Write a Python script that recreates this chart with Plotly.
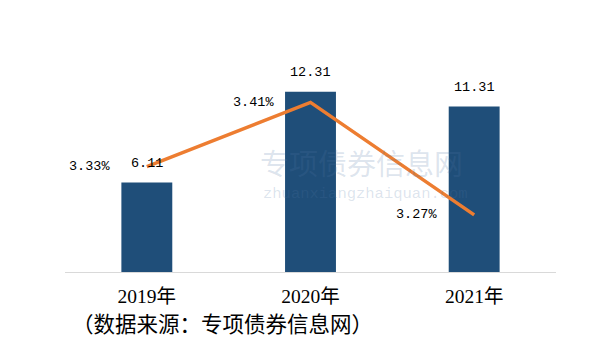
import plotly.graph_objects as go

categories = ["2019年", "2020年", "2021年"]
amounts = [6.11, 12.31, 11.31]
rates = [3.33, 3.41, 3.27]
rate_labels = ["3.33%", "3.41%", "3.27%"]
amount_labels = ["6.11", "12.31", "11.31"]
source_text = "（数据来源：专项债券信息网）"
watermark_cn = "专项债券信息网"
watermark_en = "zhuanxiangzhaiquan.com"

BAR = "#1F4E79"
LINE = "#ED7D31"
NUMFONT = dict(family="Liberation Mono, monospace", size=13.5, color="#000000")
WM = "rgba(80,120,165,0.2)"

fig = go.Figure()
fig.add_trace(go.Bar(x=categories, y=amounts, marker=dict(color=BAR, line=dict(width=0)),
                     hoverinfo="skip", showlegend=False))
fig.add_trace(go.Scatter(x=categories, y=rates, yaxis="y2", mode="lines",
                         line=dict(color=LINE, width=3.5), hoverinfo="skip", showlegend=False))

annotations = []
for c, v, t in zip(categories, amounts, amount_labels):
    annotations.append(dict(x=c, y=v, xref="x", yref="y", text=t, showarrow=False,
                            yanchor="middle", yshift=19, font=NUMFONT))
for c, v, t in zip(categories, rates, rate_labels):
    annotations.append(dict(x=c, y=v, xref="x", yref="y2", text=t, showarrow=False,
                            xanchor="right", yanchor="middle", xshift=-35, font=NUMFONT))
annotations.append(dict(x=0.0102, y=-0.248, xref="paper", yref="paper", text=source_text,
                        showarrow=False, xanchor="left", yanchor="middle",
                        font=dict(family="Noto Sans CJK SC", size=21.5, color="#000000")))
annotations.append(dict(x=0.603, y=0.538, xref="paper", yref="paper", text=watermark_cn,
                        showarrow=False, xanchor="center", yanchor="middle",
                        font=dict(family="Noto Sans CJK SC", size=29, color=WM)))
annotations.append(dict(x=0.612, y=0.380, xref="paper", yref="paper", text=watermark_en,
                        showarrow=False, xanchor="center", yanchor="middle",
                        font=dict(family="Liberation Mono, monospace", size=15.5, color=WM)))

fig.update_layout(
    width=610, height=358,
    margin=dict(l=65, r=53.5, t=66.5, b=86, pad=0, autoexpand=False),
    paper_bgcolor="white", plot_bgcolor="white",
    bargap=0.689,
    xaxis=dict(showline=True, linecolor="#D9D9D9", linewidth=1, showgrid=False, automargin=False,
               ticks="", tickfont=dict(family="Liberation Serif, Noto Sans CJK SC", size=19.5, color="#000000"),
               ticklabelstandoff=7, fixedrange=True),
    yaxis=dict(range=[0, 14], visible=False, showgrid=False, fixedrange=True, automargin=False),
    yaxis2=dict(range=[3.199, 3.454], overlaying="y", side="right", visible=False,
                showgrid=False, fixedrange=True, automargin=False),
    annotations=annotations,
)

fig.write_html("out.html", config={"displayModeBar": False},
               post_script="document.body.style.margin='0';document.body.style.overflow='hidden';")
